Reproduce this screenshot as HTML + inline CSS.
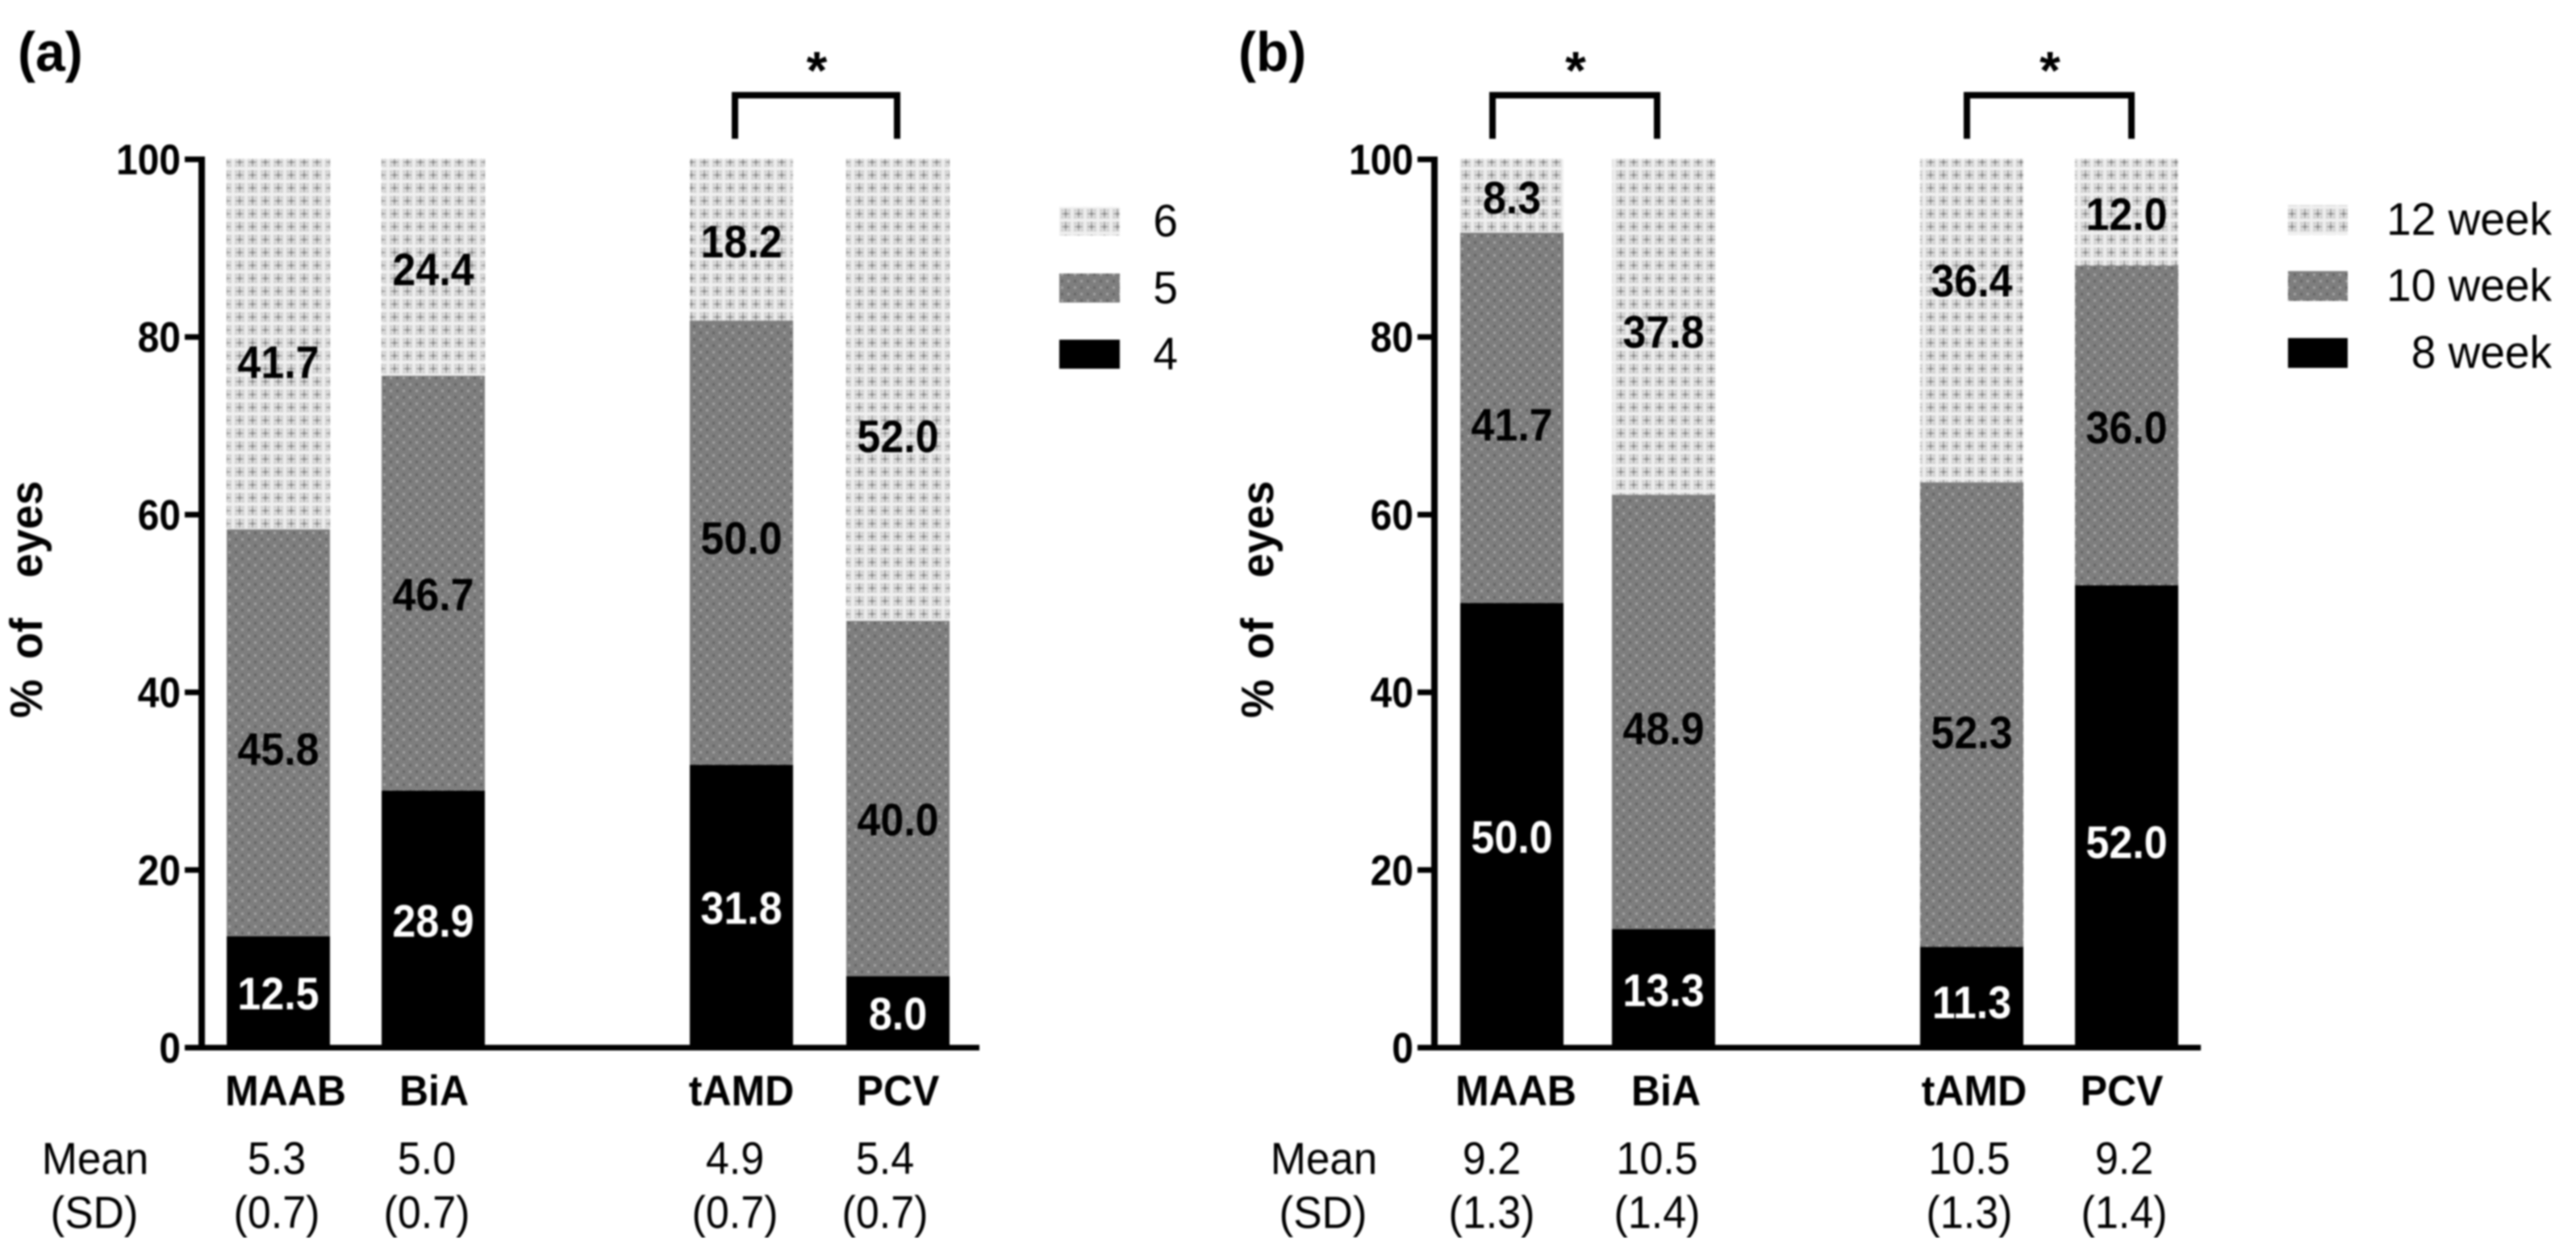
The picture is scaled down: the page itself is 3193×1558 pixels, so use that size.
<!DOCTYPE html>
<html lang="en">
<head>
<meta charset="utf-8">
<title>Stacked bars of eyes by group</title>
<style>
html,body{margin:0;padding:0;background:#fff;width:3193px;height:1558px;overflow:hidden}
svg{display:block}
text{font-family:"Liberation Sans",Arial,sans-serif;fill:#000}
</style>
</head>
<body>
<svg id="chart" xmlns="http://www.w3.org/2000/svg" width="3193" height="1558" viewBox="0 0 3193 1558">
<defs>
<filter id="soft" x="0" y="0" width="100%" height="100%" color-interpolation-filters="sRGB"><feGaussianBlur stdDeviation="1.1"/></filter>
<pattern id="pat-light" width="16" height="16" patternUnits="userSpaceOnUse">
<rect width="16" height="16" fill="#e1e1e1"/>
<rect x="0" y="0" width="16" height="2" fill="#f6f6f6"/>
<rect x="0" y="0" width="2" height="16" fill="#f2f2f2"/>
<rect x="8" y="3" width="2" height="11" fill="#a4a4a4"/>
<rect x="4" y="8" width="10" height="2" fill="#a4a4a4"/>
<rect x="8" y="8" width="2" height="2" fill="#6e6e6e"/>
<rect x="4" y="4" width="2" height="2" fill="#c0c0c0"/>
<rect x="12" y="4" width="2" height="2" fill="#c0c0c0"/>
<rect x="4" y="12" width="2" height="2" fill="#c0c0c0"/>
<rect x="12" y="12" width="2" height="2" fill="#c0c0c0"/>
</pattern>
<pattern id="pat-mid" width="16" height="16" patternUnits="userSpaceOnUse">
<rect width="16" height="16" fill="#7e7e7e"/>
<rect x="3" y="3" width="3" height="3" fill="#a2a2a2"/>
<rect x="11" y="11" width="3" height="3" fill="#a2a2a2"/>
<rect x="11" y="3" width="3" height="3" fill="#656565"/>
<rect x="3" y="11" width="3" height="3" fill="#656565"/>
</pattern>
</defs>
<g id="root" filter="url(#soft)"></g>
</svg>
<script>
// ---- data ----
const categories = ['MAAB', 'BiA', 'tAMD', 'PCV'];
const yTicks = [0, 20, 40, 60, 80, 100];
const a4 = [12.5, 28.9, 31.8, 8.0];
const a5 = [45.8, 46.7, 50.0, 40.0];
const a6 = [41.7, 24.4, 18.2, 52.0];
const b8 = [50.0, 13.3, 11.3, 52.0];
const b10 = [41.7, 48.9, 52.3, 36.0];
const b12 = [8.3, 37.8, 36.4, 12.0];
const aMeans = ['5.3', '5.0', '4.9', '5.4'];
const aSDs = ['(0.7)', '(0.7)', '(0.7)', '(0.7)'];
const bMeans = ['9.2', '10.5', '10.5', '9.2'];
const bSDs = ['(1.3)', '(1.4)', '(1.3)', '(1.4)'];
const aLegend = ['6', '5', '4'];
const bLegend = ['12 week', '10 week', '8 week'];

// ---- layout ----
const NS = 'http://www.w3.org/2000/svg';
const root = document.getElementById('root');
const Y0 = 1298, Y100 = 197;
function yScale(v) { return Y0 - (v / 100) * (Y0 - Y100); }

function rect(x, y, w, h, fill, name) {
  const r = document.createElementNS(NS, 'rect');
  r.setAttribute('x', x); r.setAttribute('y', y);
  r.setAttribute('width', w); r.setAttribute('height', h);
  r.setAttribute('fill', fill);
  
  
  root.appendChild(r);
  return r;
}
function label(str, x, y, size, bold, anchor, name, opts) {
  const o = opts || {};
  const t = document.createElementNS(NS, 'text');
  const sy = o.sy || 1.08, sx = o.sx || 1;
  t.setAttribute('text-anchor', anchor || 'middle');
  t.setAttribute('font-size', size);
  if (bold) t.setAttribute('font-weight', 'bold');
  if (o.fill) t.style.fill = o.fill;
  if (o.wordSpacing) t.style.wordSpacing = o.wordSpacing + 'px';
  const rot = o.rotate ? ' rotate(' + o.rotate + ')' : '';
  t.setAttribute('transform', 'translate(' + x + ' ' + y + ')' + rot + ' scale(' + sx + ' ' + sy + ')');
  t.textContent = str;
  
  
  root.appendChild(t);
  return t;
}

const FILLS = ['#000', 'url(#pat-mid)', 'url(#pat-light)'];
const TEXT_FILLS = ['#fff', '#000', '#000'];

function drawPanel(p) {
  // panel tag
  label(p.tag, p.tagX, 88, 66, true, 'start', 'panel-label-' + p.id, {sy: 1.04});
  // y-axis title
  label('% of\u00A0\u00A0eyes', p.titleX, 743, 54, true, 'middle', 'y-axis-title-' + p.id, {rotate: -90, wordSpacing: 10, sy: 1.04});

  // stacked bars
  p.series.forEach(function (vals, s) {
    vals.forEach(function (v, i) {
      let base = 0;
      for (let k = 0; k < s; k++) base += p.series[k][i];
      const top = yScale(base + v), bot = yScale(base);
      const bx = p.barX[i];
      rect(bx, top, p.barW, bot - top, FILLS[s], 'bar-' + p.id + '-' + categories[i].toLowerCase() + '-' + p.legend[2 - s].replace(' ', '-'));
    });
  });
  // value labels
  p.series.forEach(function (vals, s) {
    vals.forEach(function (v, i) {
      let base = 0;
      for (let k = 0; k < s; k++) base += p.series[k][i];
      const nudge = (p.nudge[s + '-' + i] || 0);
      const cy = (yScale(base + v) + yScale(base)) / 2 + 22 + nudge;
      label(v.toFixed(1), p.barX[i] + p.barW / 2, cy, 52, true, 'middle', 'value-label-' + p.id + '-' + s + '-' + i, {fill: TEXT_FILLS[s]});
    });
  });

  // axes
  rect(p.axisX - 4, Y100 - 3, 8, Y0 - Y100 + 6, '#000', 'y-axis-line-' + p.id);
  rect(p.axisX - 21, Y0 - 3, p.axisEnd - p.axisX + 21, 7, '#000', 'x-axis-line-' + p.id);
  yTicks.forEach(function (t) {
    const y = yScale(t);
    rect(p.axisX - 21, y - 3, 21, 7, '#000', 'y-tick-' + p.id + '-' + t);
    label(String(t), p.axisX - 26, y + 19, 48, true, 'end', 'y-tick-label-' + p.id + '-' + t, {sy: 1.1});
  });

  // category + stats rows
  categories.forEach(function (c, i) {
    label(c, p.catX[i], 1370, 50, true, 'middle', 'category-label-' + p.id + '-' + c.toLowerCase(), {sy: 1.06});
    label(p.means[i], p.statX[i], 1455, 52, false, 'middle', 'mean-value-' + p.id + '-' + i);
    label(p.sds[i], p.statX[i], 1522, 52, false, 'middle', 'sd-value-' + p.id + '-' + i);
  });
  label('Mean', p.meanX, 1455, 53, false, 'middle', 'mean-row-label-' + p.id, {sy: 1.05});
  label('(SD)', p.meanX - 1, 1522, 53, false, 'middle', 'sd-row-label-' + p.id, {sy: 1.05});

  // significance brackets
  p.brackets.forEach(function (b, n) {
    const nm = 'significance-bracket-' + p.id + '-' + n;
    rect(b[0] - 4, 114, b[1] - b[0] + 8, 8, '#000', nm + '-top');
    rect(b[0] - 4, 114, 8, 58, '#000', nm + '-left');
    rect(b[1] - 4, 114, 8, 58, '#000', nm + '-right');
    label('*', (b[0] + b[1]) / 2 + 1, 110, 66, true, 'middle', 'significance-star-' + p.id + '-' + n, {sy: 1});
  });

  // legend
  p.legend.forEach(function (txt, i) {
    const yTop = p.legY[i];
    rect(p.swX, yTop, p.swW, p.swH, FILLS[2 - i], 'legend-swatch-' + p.id + '-' + i);
    label(txt, p.legTextX, yTop + p.legBase, 55, false, p.legAnchor, 'legend-entry-' + p.id + '-' + i, {sy: 1.03});
  });
}

drawPanel({
  id: 'a', tag: '(a)', tagX: 22, titleX: 52,
  axisX: 250, axisEnd: 1214,
  barX: [281, 473, 855, 1049], barW: 128,
  catX: [354, 538, 919, 1113],
  statX: [343, 529, 911, 1097], meanX: 118,
  series: [a4, a5, a6], means: aMeans, sds: aSDs,
  brackets: [[911, 1112]],
  legend: aLegend, swX: 1313, swW: 75, swH: 36, legY: [256, 339, 421],
  legTextX: 1460, legBase: 37, legAnchor: 'end',
  nudge: {'2-0': 20, '1-0': 18, '1-1': 12, '1-2': -8, '1-3': 24, '2-3': 55}
});
drawPanel({
  id: 'b', tag: '(b)', tagX: 1535, titleX: 1578,
  axisX: 1778, axisEnd: 2728,
  barX: [1810, 1998, 2380, 2572], barW: 128,
  catX: [1879, 2065, 2447, 2630],
  statX: [1849, 2054, 2441, 2633], meanX: 1641,
  series: [b8, b10, b12], means: bMeans, sds: bSDs,
  brackets: [[1850, 2054], [2438, 2642]],
  legend: bLegend, swX: 2836, swW: 74, swH: 37, legY: [254, 336, 419],
  legTextX: 3163, legBase: 37, legAnchor: 'end',
  nudge: {'0-0': 12, '0-2': 4, '0-3': 30, '1-0': 6, '1-1': 18, '1-2': 20, '2-1': 4, '2-2': -52}
});
</script>
</body>
</html>
